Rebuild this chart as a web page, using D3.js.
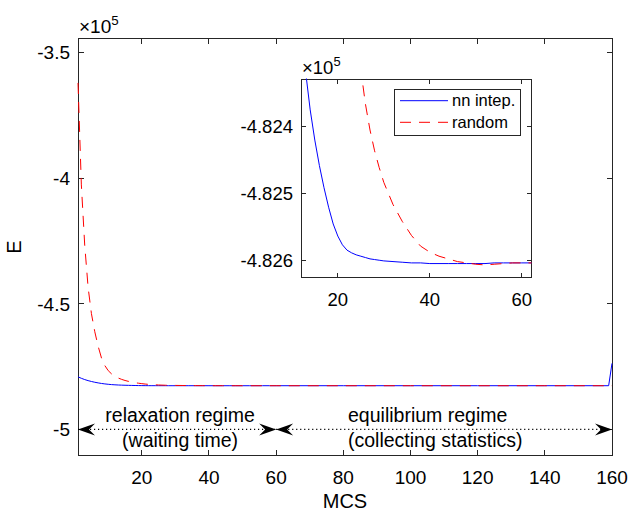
<!DOCTYPE html>
<html>
<head>
<meta charset="utf-8">
<script src="https://cdn.jsdelivr.net/npm/d3@7"></script>
<style>
  body { margin: 0; background: #fff; }
  text { font-family: "Liberation Sans", Arial, Helvetica, sans-serif; fill: #000; }
</style>
</head>
<body>
<svg id="chart" width="630" height="512"></svg>
<script>
// energy vs Monte Carlo steps, two starting configurations
var mcs = [1, 2, 3, 4, 5, 6, 7, 8, 9, 10,
           11, 12, 13, 14, 15, 16, 17, 18, 19, 20,
           21, 22, 23, 24, 25, 26, 27, 28, 29, 30,
           32, 34, 36, 38, 40, 42, 44, 46, 48, 50, 52, 54, 56, 58, 60,
           80, 100, 120, 140, 159, 160];
var eNN = [-479063, -479653, -480153, -480573, -480923, -481223, -481483, -481703, -481883, -482033,
           -482160, -482245, -482318, -482375, -482420, -482458, -482491, -482520, -482545, -482563,
           -482576, -482584, -482588, -482591, -482593, -482595, -482597, -482598, -482599, -482600,
           -482601, -482602, -482603, -482603, -482604, -482604, -482604, -482604, -482604, -482604, -482604, -482603, -482603, -482603, -482603,
           -482603, -482603, -482603, -482603, -482603, -473700];
var eRandom = [-362003, -402603, -426603, -443303, -453903, -461103, -466903, -471603, -474603, -476603,
               -477903, -478903, -479553, -480083, -480513, -480863, -481153, -481393, -481603, -481773,
               -481937, -482070, -482170, -482250, -482315, -482366, -482405, -482436, -482461, -482483,
               -482516, -482541, -482562, -482578, -482587, -482593, -482597, -482601, -482603, -482605, -482606, -482605, -482604, -482603, -482603,
               -482603, -482603, -482603, -482603, -482603, -482603];
var seriesNames = ["nn intep.", "random"];

var xTicks = [20, 40, 60, 80, 100, 120, 140, 160];
var yTicks = [-350000, -400000, -450000, -500000];
var yTickLabels = ["-3.5", "-4", "-4.5", "-5"];
var insetXTicks = [20, 40, 60];
var insetYTicks = [-482400, -482500, -482600];
var insetYTickLabels = ["-4.824", "-4.825", "-4.826"];

// regime annotations (double arrows along E = -5e5)
var regimeFrom = [1, 60];
var regimeTo = [60, 160];
var regimeE = -500000;
var regimeTitle = ["relaxation regime", "equilibrium regime"];
var regimeNote = ["(waiting time)", "(collecting statistics)"];

var axisColor = "#262626";
var svg = d3.select("#chart");

var x = d3.scaleLinear().domain([1, 160]).range([78, 612]);
var y = d3.scaleLinear().domain([-510200, -344100]).range([455, 38]);

var xi = d3.scaleLinear().domain([12, 62]).range([301, 531]);
var yi = d3.scaleLinear().domain([-482624, -482329]).range([277, 79]);

function drawFrame(g, xs, ys, xt, yt, ytl, tickLen, fs) {
  var x0 = xs.range()[0], x1 = xs.range()[1], y0 = ys.range()[1], y1 = ys.range()[0];
  g.append("rect").attr("x", x0).attr("y", y0).attr("width", x1 - x0).attr("height", y1 - y0)
    .attr("fill", "none").attr("stroke", axisColor).attr("stroke-width", 1).attr("shape-rendering", "crispEdges");
  xt.forEach(function (t) {
    var px = xs(t);
    g.append("line").attr("x1", px).attr("x2", px).attr("y1", y1).attr("y2", y1 - tickLen)
      .attr("stroke", axisColor).attr("shape-rendering", "crispEdges");
    g.append("line").attr("x1", px).attr("x2", px).attr("y1", y0).attr("y2", y0 + tickLen)
      .attr("stroke", axisColor).attr("shape-rendering", "crispEdges");
    g.append("text").attr("x", px).attr("y", y1 + 28.5).attr("text-anchor", "middle")
      .style("font-size", fs + "px").text(t);
  });
  yt.forEach(function (t, i) {
    var py = ys(t);
    g.append("line").attr("x1", x0).attr("x2", x0 + tickLen).attr("y1", py).attr("y2", py)
      .attr("stroke", axisColor).attr("shape-rendering", "crispEdges");
    g.append("line").attr("x1", x1).attr("x2", x1 - tickLen).attr("y1", py).attr("y2", py)
      .attr("stroke", axisColor).attr("shape-rendering", "crispEdges");
    g.append("text").attr("x", x0 - 8).attr("y", py).attr("dy", "0.35em").attr("text-anchor", "end")
      .style("font-size", fs + "px").text(ytl[i]);
  });
  // exponent
  var ex = g.append("text").attr("x", x0 + 1).attr("y", y0 - 5).style("font-size", fs + "px");
  ex.append("tspan").text("\u00d710");
  ex.append("tspan").attr("dy", -8).style("font-size", (fs * 0.7) + "px").text("5");
}

function drawSeries(g, xs, ys, clipId) {
  var line = d3.line().x(function (d) { return xs(d[0]); }).y(function (d) { return ys(d[1]); });
  var nn = mcs.map(function (m, i) { return [m, eNN[i]]; });
  var rd = mcs.map(function (m, i) { return [m, eRandom[i]]; });
  var lg = g.append("g").attr("clip-path", "url(#" + clipId + ")");
  lg.append("path").attr("d", line(nn)).attr("fill", "none").attr("stroke", "#0000ff").attr("stroke-width", 1);
  lg.append("path").attr("d", line(rd)).attr("fill", "none").attr("stroke", "#ff0000").attr("stroke-width", 1)
    .attr("stroke-dasharray", "11,8");
}

var defs = svg.append("defs");
defs.append("clipPath").attr("id", "clipMain").append("rect")
  .attr("x", 77).attr("y", 37).attr("width", 536).attr("height", 419);
defs.append("clipPath").attr("id", "clipInset").append("rect")
  .attr("x", 300.5).attr("y", 78.5).attr("width", 231).attr("height", 199);

// main axes: frame first, data on top
var main = svg.append("g");
drawFrame(main, x, y, xTicks, yTicks, yTickLabels, 5.5, 19);
drawSeries(main, x, y, "clipMain");

main.append("text").attr("x", 345).attr("y", 508).attr("text-anchor", "middle")
  .style("font-size", "20px").text("MCS");
main.append("text").attr("transform", "translate(21,247) rotate(-90)").attr("text-anchor", "middle")
  .style("font-size", "20px").text("E");

// regime arrows
function arrowHead(g, tx, ty, dir) {
  var L = 17, w = 6, n = 11;
  var p = [[tx, ty], [tx - dir * L, ty - w], [tx - dir * n, ty], [tx - dir * L, ty + w]];
  g.append("path").attr("d", "M" + p.map(function (q) { return q.join(","); }).join("L") + "Z")
    .attr("fill", "#000");
}
regimeFrom.forEach(function (f, i) {
  var ax0 = x(f), ax1 = x(regimeTo[i]), ay = y(regimeE);
  main.append("line").attr("x1", ax0).attr("x2", ax1).attr("y1", ay).attr("y2", ay)
    .attr("stroke", "#000").attr("stroke-width", 1.1).attr("stroke-dasharray", "1.2,2.8");
  arrowHead(main, ax0, ay, -1);
  arrowHead(main, ax1, ay, 1);
});
main.append("text").attr("x", x(31.4)).attr("y", 421.5).attr("text-anchor", "middle")
  .style("font-size", "19.5px").text(regimeTitle[0]);
main.append("text").attr("x", x(31.4)).attr("y", 447).attr("text-anchor", "middle")
  .style("font-size", "19.5px").text(regimeNote[0]);
main.append("text").attr("x", x(81.4)).attr("y", 421.5)
  .style("font-size", "19.5px").text(regimeTitle[1]);
main.append("text").attr("x", x(81.4)).attr("y", 447)
  .style("font-size", "19.5px").text(regimeNote[1]);

// inset
var inset = svg.append("g");
inset.append("rect").attr("x", 301).attr("y", 79).attr("width", 230).attr("height", 198).attr("fill", "#fff");
drawFrame(inset, xi, yi, insetXTicks, insetYTicks, insetYTickLabels, 4.5, 18.5);
drawSeries(inset, xi, yi, "clipInset");

// legend
var leg = inset.append("g");
leg.append("rect").attr("x", 394.5).attr("y", 89.5).attr("width", 126).attr("height", 46)
  .attr("fill", "#fff").attr("stroke", axisColor).attr("shape-rendering", "crispEdges");
var legY = [100.7, 122.3];
var legColor = ["#0000ff", "#ff0000"];
var legDash = [null, "11,8"];
seriesNames.forEach(function (s, i) {
  leg.append("line").attr("x1", 400).attr("x2", 448).attr("y1", legY[i]).attr("y2", legY[i])
    .attr("stroke", legColor[i]).attr("stroke-width", 1).attr("stroke-dasharray", legDash[i]);
  leg.append("text").attr("x", 452).attr("y", legY[i]).attr("dy", "0.35em")
    .style("font-size", "16.5px").text(s);
});
</script>
</body>
</html>
